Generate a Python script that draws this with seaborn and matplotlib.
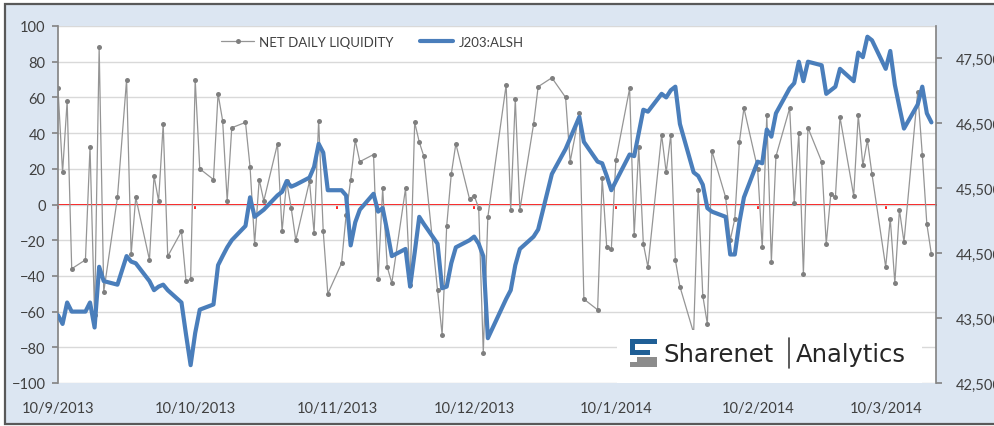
import pandas as pd
import matplotlib
matplotlib.use('Agg')
import matplotlib.pyplot as plt
import matplotlib.dates as mdates
from matplotlib.patches import Rectangle
from matplotlib.lines import Line2D
from matplotlib.ticker import FuncFormatter, NullFormatter
import seaborn as sns

# trading days (JSE) per month, Sep 2013 - Mar 2014
sep_days = [10, 11, 12, 13, 16, 17, 18, 19, 20, 23, 25, 26, 27, 30]
oct_days = [1, 2, 3, 4, 7, 8, 9, 10, 11, 14, 15, 16, 17, 18, 21, 22, 23, 24, 25, 28, 29, 30, 31]
nov_days = [1, 4, 5, 6, 7, 8, 11, 12, 13, 14, 15, 18, 19, 20, 21, 22, 25, 26, 27, 28, 29]
dec_days = [2, 3, 4, 5, 6, 9, 10, 11, 12, 13, 17, 18, 19, 20, 23, 24, 27, 30, 31]
jan_days = [2, 3, 6, 7, 8, 9, 10, 13, 14, 15, 16, 17, 20, 21, 22, 23, 24, 27, 28, 29, 30, 31]
feb_days = [3, 4, 5, 6, 7, 10, 11, 12, 13, 14, 17, 18, 19, 20, 21, 24, 25, 26, 27, 28]
mar_days = [3, 4, 5, 6, 7, 10, 11, 12, 13, 14, 17, 18, 19, 20]

# net daily liquidity (left axis)
liq_sep = [65, 18, 58, -36, -31, 32, -62, 88, -49, 4, 70, -28, 4, -31]
liq_oct = [16, 2, 45, -29, -15, -43, -42, 70, 20, 14, 62, 47, 2, 43, 46, 21, -22, 14, 2, 34, -15, 13, -2]
liq_nov = [-20, 13, -16, 47, -15, -50, -33, -6, 14, 36, 24, 28, -42, 9, -35, -44, 9, -45, 46, 35, 27]
liq_dec = [-48, -73, -12, 17, 34, 3, 5, -2, -83, -7, 67, -3, 59, -3, 45, 66, 71, 60, 24]
liq_jan = [51, -53, -59, 15, -24, -25, 25, 65, -17, 32, -22, -35, 39, 18, 39, -31, -46, -72, 8, -51, -67, 30]
liq_feb = [4, -20, -8, 35, 54, 20, -24, 50, -32, 27, 54, 1, 40, -39, 43, 24, -22, 6, 4, 49]
liq_mar = [5, 50, 22, 36, 17, -35, -8, -44, -3, -21, 63, 28, -11, -28]

# J203:ALSH index (right axis)
alsh_sep = [43545, 43410, 43740, 43600, 43600, 43740, 43355, 44290, 44070, 44015, 44455, 44370, 44345, 44070]
alsh_oct = [43930, 43985, 44015, 43930, 43740, 43245, 42775, 43270, 43630, 43710, 44315, 44455, 44590,
            44700, 44920, 45360, 45060, 45115, 45170, 45390, 45445, 45610, 45525]
alsh_nov = [45555, 45665, 45830, 46185, 46050, 45470, 45470, 45390, 44620, 44975, 45170, 45415, 45140,
            45195, 44840, 44455, 44565, 43985, 44510, 45060, 44950]
alsh_dec = [44645, 43960, 43985, 44345, 44590, 44700, 44755, 44645, 44455, 43190, 43795, 43930, 44315,
            44565, 44755, 44865, 45720, 46105, 46270]
alsh_jan = [46600, 46215, 45910, 45885, 45690, 45470, 45610, 46020, 45995, 46350, 46710, 46680, 46955,
            46900, 47010, 47065, 46490, 45745, 45690, 45555, 45195, 45140]
alsh_feb = [45060, 44480, 44480, 44975, 45360, 45910, 45885, 46405, 46295, 46655, 47040, 47120, 47450,
            47150, 47450, 47395, 46955, 47010, 47065, 47340]
alsh_mar = [47150, 47590, 47520, 47835, 47780, 47340, 47615, 47095, 46750, 46420, 46790, 47065, 46655, 46515]

y_ticks_left = list(range(-100, 101, 20))
y_ticks_right = [42500, 43500, 44500, 45500, 46500, 47500]

W, H = 994, 427


def build_frame():
    months = [(2013, 9, sep_days, liq_sep, alsh_sep), (2013, 10, oct_days, liq_oct, alsh_oct),
              (2013, 11, nov_days, liq_nov, alsh_nov), (2013, 12, dec_days, liq_dec, alsh_dec),
              (2014, 1, jan_days, liq_jan, alsh_jan), (2014, 2, feb_days, liq_feb, alsh_feb),
              (2014, 3, mar_days, liq_mar, alsh_mar)]
    rows = []
    for yr, mo, days, liq, alsh in months:
        for d, l, a in zip(days, liq, alsh):
            rows.append({'date': pd.Timestamp(yr, mo, d), 'liquidity': l, 'alsh': a})
    return pd.DataFrame(rows)


def fig_rect(x0, y0, x1, y1, **kw):
    # rectangle given in picture pixels (origin top-left)
    return Rectangle((x0 / W, 1 - y1 / H), (x1 - x0) / W, (y1 - y0) / H,
                     transform=plt.gcf().transFigure, **kw)


df = build_frame()

sns.set_theme(style='white')
plt.rcParams['font.family'] = ['Lato', 'DejaVu Sans']

fig = plt.figure(figsize=(W / 100, H / 100), dpi=100)
fig.patch.set_facecolor('white')
fig.add_artist(fig_rect(5, 5, 1005, 425, facecolor='#dce6f2', edgecolor='#595959', lw=1.6, zorder=-1))

ax = fig.add_axes([58 / W, 1 - 384 / H, (936 - 58) / W, (384 - 27) / H])
ax.set_facecolor('white')

sns.lineplot(data=df, x='date', y='liquidity', ax=ax, color='#959595', lw=0.9,
             marker='o', markersize=3.6, markeredgewidth=0, markerfacecolor='#7f7f7f',
             label='NET DAILY LIQUIDITY', legend=False)

ax.set_ylim(-100, 100)
ax.set_yticks(y_ticks_left)
ax.set_xlim(pd.Timestamp('2013-09-10'), pd.Timestamp('2014-03-21'))
ax.yaxis.grid(True, color='#d9d9d9', lw=1)
ax.set_axisbelow(True)
ax.set_xlabel('')
ax.set_ylabel('')
for s in ('top', 'right', 'bottom'):
    ax.spines[s].set_visible(False)
ax.spines['left'].set_color('#868686')
ax.tick_params(axis='y', left=True, direction='out', length=4, color='#868686',
               labelsize=10.5, labelcolor='#404040', pad=5)

dmy = FuncFormatter(lambda v, p: '{0.day}/{0.month}/{0.year}'.format(mdates.num2date(v)))
ax.xaxis.set_major_locator(mdates.MonthLocator(bymonthday=10))
ax.xaxis.set_major_formatter(dmy)
ax.tick_params(axis='x', bottom=True, length=0, labelsize=10.5, labelcolor='#404040', pad=13)

# red horizontal axis crossing at zero, with its small tick marks
zero_axis = ax.secondary_xaxis(0.49999)
zero_axis.xaxis.set_major_locator(mdates.MonthLocator(bymonthday=10))
zero_axis.xaxis.set_major_formatter(NullFormatter())
for sp in zero_axis.spines.values():
    sp.set_color('#ff0000')
    sp.set_linewidth(1.4)
zero_axis.tick_params(axis='x', direction='out', length=3, width=1.2, color='#ff0000',
                      labelbottom=False, labeltop=False)

ax2 = ax.twinx()
sns.lineplot(data=df, x='date', y='alsh', ax=ax2, color='#4a7ebb', lw=3.0,
             label='J203:ALSH', legend=False)
ax2.set_ylim(42500, 48000)
ax2.set_yticks(y_ticks_right)
ax2.yaxis.set_major_formatter(FuncFormatter(lambda v, p: f'{v:,.0f}'))
ax2.set_ylabel('')
for s in ('top', 'left', 'bottom'):
    ax2.spines[s].set_visible(False)
ax2.spines['right'].set_color('#868686')
ax2.tick_params(axis='y', right=True, direction='out', length=4, color='#868686',
                labelsize=10.5, labelcolor='#404040', pad=10)

h1, l1 = ax.get_legend_handles_labels()
h2, l2 = ax2.get_legend_handles_labels()
leg = ax2.legend(h1 + h2, l1 + l2, loc='center', bbox_to_anchor=(0.358, 0.955), ncol=2,
                 frameon=False, fontsize=9.5, handlelength=2.5, handletextpad=0.4,
                 columnspacing=2.0, labelcolor='#404040')

# Sharenet | Analytics watermark
fig.add_artist(fig_rect(617, 331, 922, 384, facecolor='white', edgecolor='none', zorder=10))
blue, grey = '#1f5f96', '#8c8c8c'
fig.add_artist(fig_rect(630, 340, 657, 345, facecolor=blue, edgecolor='none', zorder=11))
fig.add_artist(fig_rect(630, 340, 635, 356, facecolor=blue, edgecolor='none', zorder=11))
fig.add_artist(fig_rect(630, 351, 650, 356, facecolor=blue, edgecolor='none', zorder=11))
fig.add_artist(fig_rect(637, 358, 657, 363, facecolor=grey, edgecolor='none', zorder=11))
fig.add_artist(fig_rect(652, 358, 657, 368, facecolor=grey, edgecolor='none', zorder=11))
fig.add_artist(fig_rect(630, 363, 657, 368, facecolor=grey, edgecolor='none', zorder=11))
fig.text(663 / W, 1 - 355 / H, 'Sharenet', ha='left', va='center', fontsize=17.5,
         color='#262626', family='DejaVu Sans', zorder=12)
fig.add_artist(Line2D([789 / W, 789 / W], [1 - 339 / H, 1 - 369 / H], transform=fig.transFigure,
                      color='#404040', lw=1.2, zorder=12))
fig.text(796 / W, 1 - 355 / H, 'Analytics', ha='left', va='center', fontsize=17.5,
         color='#262626', family='DejaVu Sans', zorder=12)

fig.savefig('out.png', dpi=100)
plt.close(fig)
